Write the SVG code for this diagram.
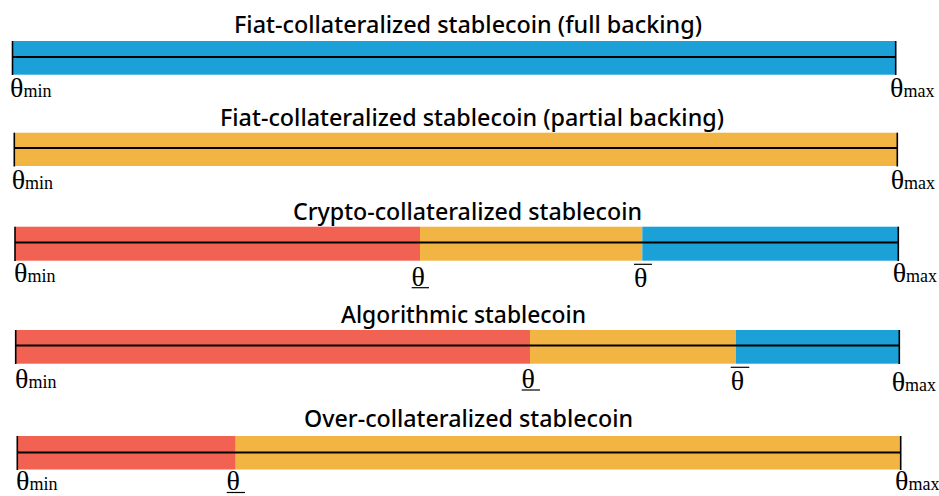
<svg xmlns="http://www.w3.org/2000/svg" width="939" height="496" viewBox="0 0 939 496">
<style>
.title{font-family:"Noto Sans","DejaVu Sans",sans-serif;font-weight:500;font-size:23px;fill:#000;text-anchor:middle}
.th{font-family:"Liberation Serif","DejaVu Serif",serif;font-size:28px;fill:#000}
.sub{font-size:18px}
.blue{fill:#1ba1d8}
.yel{fill:#f2b443}
.red{fill:#f26253}
.axis{stroke:#000;stroke-width:2;fill:none}
.tick{stroke:#000;stroke-width:1.6;fill:none}
.bar{stroke:#000;stroke-width:1.2;fill:none}
</style>
<rect width="939" height="496" fill="#fff"/>

<g id="bar1">
<text class="title" x="468" y="33" textLength="468" lengthAdjust="spacingAndGlyphs">Fiat-collateralized stablecoin (full backing)</text>
<rect class="blue" x="12.5" y="41" width="883" height="33.7"/>
<line class="axis" x1="12.5" y1="57" x2="895.7" y2="57"/>
<line class="tick" x1="12.5" y1="41" x2="12.5" y2="75"/>
<line class="tick" x1="895.7" y1="41" x2="895.7" y2="75"/>
<text class="th" x="10" y="96.5">θ<tspan class="sub">min</tspan></text>
<text class="th" x="890" y="96.5">θ<tspan class="sub">max</tspan></text>
</g>

<g id="bar2">
<text class="title" x="472" y="126" textLength="504" lengthAdjust="spacingAndGlyphs">Fiat-collateralized stablecoin (partial backing)</text>
<rect class="yel" x="14.3" y="132.7" width="883" height="33.3"/>
<line class="axis" x1="14.3" y1="148" x2="897.3" y2="148"/>
<line class="tick" x1="14.3" y1="132.7" x2="14.3" y2="166.5"/>
<line class="tick" x1="897.3" y1="132.7" x2="897.3" y2="166.5"/>
<text class="th" x="11.7" y="188.5">θ<tspan class="sub">min</tspan></text>
<text class="th" x="890.7" y="188.5">θ<tspan class="sub">max</tspan></text>
</g>

<g id="bar3">
<text class="title" x="467.5" y="220" textLength="349" lengthAdjust="spacingAndGlyphs">Crypto-collateralized stablecoin</text>
<rect class="red" x="15" y="226.7" width="405" height="34"/>
<rect class="yel" x="420" y="226.7" width="222.3" height="34"/>
<rect class="blue" x="642.3" y="226.7" width="256" height="34"/>
<line class="axis" x1="15" y1="242.5" x2="898.3" y2="242.5"/>
<line class="tick" x1="15" y1="226.7" x2="15" y2="261"/>
<line class="tick" x1="898.3" y1="226.7" x2="898.3" y2="261"/>
<text class="th" x="14" y="281.5">θ<tspan class="sub">min</tspan></text>
<text class="th" x="892.7" y="281.5">θ<tspan class="sub">max</tspan></text>
<text class="th" x="411.5" y="285.5">θ</text>
<line class="bar" x1="411.7" y1="287.7" x2="429" y2="287.7"/>
<text class="th" x="634" y="287">θ</text>
<line class="bar" x1="634" y1="264.3" x2="652" y2="264.3"/>
</g>

<g id="bar4">
<text class="title" x="463.5" y="323" textLength="245" lengthAdjust="spacingAndGlyphs">Algorithmic stablecoin</text>
<rect class="red" x="15.7" y="330" width="514.3" height="33.7"/>
<rect class="yel" x="530" y="330" width="206" height="33.7"/>
<rect class="blue" x="736" y="330" width="163.3" height="33.7"/>
<line class="axis" x1="15.7" y1="345.5" x2="899.3" y2="345.5"/>
<line class="tick" x1="15.7" y1="330" x2="15.7" y2="364"/>
<line class="tick" x1="899.3" y1="330" x2="899.3" y2="364"/>
<text class="th" x="15" y="387.5">θ<tspan class="sub">min</tspan></text>
<text class="th" x="891.7" y="390.5">θ<tspan class="sub">max</tspan></text>
<text class="th" x="521.5" y="388">θ</text>
<line class="bar" x1="521.7" y1="390" x2="540" y2="390"/>
<text class="th" x="730.7" y="390">θ</text>
<line class="bar" x1="730.7" y1="367.3" x2="749.3" y2="367.3"/>
</g>

<g id="bar5">
<text class="title" x="468.5" y="427" textLength="329" lengthAdjust="spacingAndGlyphs">Over-collateralized stablecoin</text>
<rect class="red" x="17.3" y="436" width="218.4" height="33.5"/>
<rect class="yel" x="235.7" y="436" width="665" height="33.5"/>
<line class="axis" x1="17.3" y1="452.5" x2="900.7" y2="452.5"/>
<line class="tick" x1="17.3" y1="436" x2="17.3" y2="470"/>
<line class="tick" x1="900.7" y1="436" x2="900.7" y2="470"/>
<text class="th" x="16" y="490">θ<tspan class="sub">min</tspan></text>
<text class="th" x="895" y="490">θ<tspan class="sub">max</tspan></text>
<text class="th" x="226.5" y="490">θ</text>
<line class="bar" x1="226.7" y1="492.5" x2="245" y2="492.5"/>
</g>
</svg>
